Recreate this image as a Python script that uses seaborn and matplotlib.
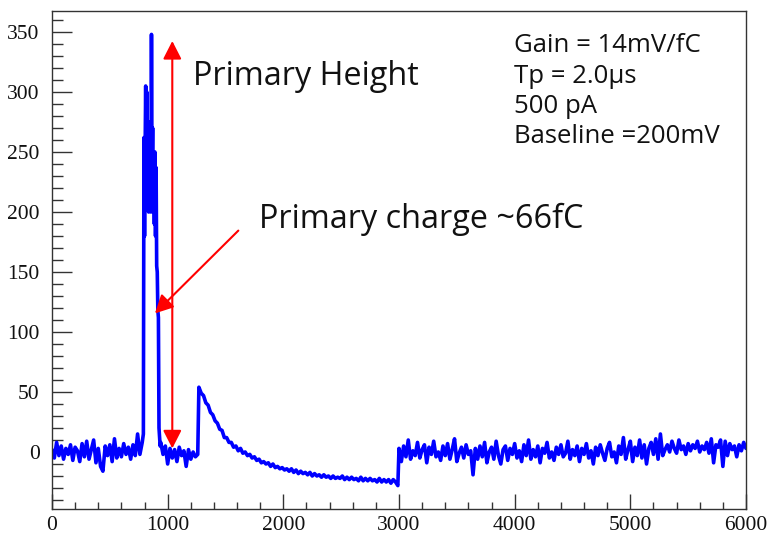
import numpy as np
import pandas as pd
import matplotlib
matplotlib.use("Agg")
import matplotlib.pyplot as plt
import seaborn as sns
from matplotlib.ticker import MultipleLocator

# ---- data (time in ns, amplitude in mV) ----
pre_t = np.arange(0, 800, 20)
pre_amp = [2, -5, 8, -3, 5, -6, 3, -2, 6, -7, 4, 1, -8, 7, -4, 9, -6, 2, 10, -9,
           3, -12, -16, 5, -3, 6, -8, 11, -5, 3, -4, 7, -2, 4, -6, 6, -3, 15, -2, 8]

pulse_t = np.arange(790, 940, 5)
pulse_amp = [15, 262, 180, 250, 305, 225, 300, 215, 255, 200, 240, 210, 275, 200, 348,
             230, 270, 200, 250, 190, 250, 180, 237, 155, 150, 118, 112, 20, 12, 5]

post_t = np.arange(940, 1280, 20)
post_amp = [8, -2, 5, -10, 3, -5, 2, -8, 4, -3, 1, -12, 2, -6, 0, -4, -2]

tail_t = np.arange(1270, 3000, 20)
tail_amp = [54, 49, 47, 41, 39, 33, 31, 26, 24, 19,
            18, 12, 12, 8, 8, 4, 5, 1, 3, -1,
            0, -3, -2, -5, -4, -7, -6, -9, -8, -10,
            -9, -12, -10, -13, -12, -14, -13, -15, -14, -16,
            -14, -17, -15, -18, -16, -18, -17, -19, -17, -20,
            -18, -20, -19, -21, -19, -21, -20, -22, -20, -22,
            -21, -22, -20, -23, -21, -23, -21, -23, -22, -24,
            -21, -24, -22, -24, -22, -24, -23, -25, -22, -25,
            -23, -25, -23, -26, -23, -25, -28]

late_t = np.arange(3000, 6001, 20)
late_amp = [3, -8, 5, -4, 10, -6, 1, -3, 8, -5, 2, 6, -9, 4, -2, 9, -4, 0, -7, 5,
            -3, 7, -6, 2, 11, -8, -1, 4, -5, 6, -2, 1, -19, 3, -6, 5, -4, 8, -9, 0,
            4, -6, 9, -3, -10, 2, 5, -7, 3, -2, 7, -5, 1, -8, 6, -3, 10, -6, 2, -4,
            5, -9, 3, -1, 8, -5, 0, -7, 4, -2, 6, -4, -1, 9, -6, 2, -3, 5, -8, 3,
            -2, 7, -5, 1, -10, 4, -3, 6, -1, -7, 3, 8, -4, 0, -9, 5, -2, 12, -6, 2,
            9, -8, 4, -3, 10, -5, 6, -10, 3, 8, -2, 11, -6, 15, -3, 2, 6, 0, 9, 3,
            -1, 10, 2, 5, -2, 7, 1, 6, 3, 9, 0, 5, 2, 8, -1, 11, -9, 6, 4, 10,
            -12, 9, -3, 7, 2, 5, -4, 6, 1, 8,
            3]

x_ticks = [0, 1000, 2000, 3000, 4000, 5000, 6000]
y_ticks = [0, 50, 100, 150, 200, 250, 300, 350]

info_lines = ["Gain = 14mV/fC", "Tp = 2.0\u00b5s", "500 pA", "Baseline =200mV"]

df = pd.DataFrame({
    "t": np.concatenate([pre_t, pulse_t, post_t, tail_t, late_t]),
    "amp": np.concatenate([pre_amp, pulse_amp, post_amp, tail_amp, late_amp]),
})

sns.set_theme(style="white")
plt.rcParams["font.family"] = ["Liberation Serif", "DejaVu Serif"]
fig = plt.figure(figsize=(7.67, 5.34), dpi=100)
ax = fig.add_axes([52 / 767, 1 - 509 / 534, (746 - 52) / 767, (509 - 11) / 534])

sns.lineplot(data=df, x="t", y="amp", ax=ax, color="#0000ff", lw=2.6,
             estimator=None, sort=False)

tick_font = ["Liberation Serif", "DejaVu Serif"]
ax.set_xlim(0, 6000)
ax.set_ylim(-47.5, 367.5)
ax.set_xlabel("")
ax.set_ylabel("")
ax.set_xticks(x_ticks, labels=[str(v) for v in x_ticks], fontfamily=tick_font)
ax.set_yticks(y_ticks, labels=[str(v) for v in y_ticks], fontfamily=tick_font)
ax.xaxis.set_minor_locator(MultipleLocator(200))
ax.yaxis.set_minor_locator(MultipleLocator(10))
for s in ax.spines.values():
    s.set_color("#333333")
    s.set_linewidth(1.0)
ax.tick_params(axis="y", which="major", direction="in", length=14.4, width=1,
               color="#333333", pad=9, labelsize=15.5, labelcolor="#111111")
ax.tick_params(axis="y", which="minor", direction="in", length=8, width=1, color="#333333")
ax.tick_params(axis="x", which="major", direction="in", length=11, width=1,
               color="#333333", pad=5, labelsize=15.5, labelcolor="#111111")
ax.tick_params(axis="x", which="minor", direction="in", length=5.4, width=1, color="#333333")
ax.tick_params(left=True, bottom=True, top=False, right=False, which="both")

ann_font = ["Open Sans", "DejaVu Sans"]
# vertical double-headed arrow (primary height)
ax.annotate("", xy=(1040, 342.5), xytext=(1040, 3),
            arrowprops=dict(arrowstyle="<|-|>,head_length=0.55,head_width=0.28",
                            color="#ff0000", lw=1.5, mutation_scale=20,
                            shrinkA=0, shrinkB=0))
# diagonal arrow (primary charge)
ax.annotate("", xy=(890, 115.5), xytext=(1611, 184.5),
            arrowprops=dict(arrowstyle="-|>,head_length=0.55,head_width=0.28",
                            color="#ff0000", lw=1.5, mutation_scale=20,
                            shrinkA=0, shrinkB=0))

ax.text(1219, 306, "Primary Height", fontsize=23.3, family=ann_font,
        color="#111111", va="baseline", ha="left")
ax.text(1790, 187, "Primary charge ~66fC", fontsize=23.3, family=ann_font,
        color="#111111", va="baseline", ha="left")
for i, line in enumerate(info_lines):
    ax.text(3994, 333 - 25.3 * i, line, fontsize=18.5, family=ann_font,
            color="#111111", va="baseline", ha="left")

fig.savefig("out.png", dpi=100, facecolor="white")
